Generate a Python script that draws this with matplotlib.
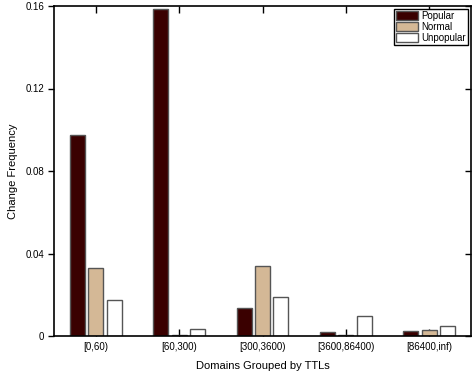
import numpy as np
import matplotlib
matplotlib.use('Agg')
import matplotlib.pyplot as plt
from matplotlib.lines import TICKLEFT

# data
groups = ['[0,60)', '[60,300)', '[300,3600)', '[3600,86400)', '[86400,inf)']
popular = [0.0976, 0.1585, 0.0136, 0.0018, 0.0023]
normal = [0.0328, 0.0005, 0.0338, 0.0005, 0.0028]
unpopular = [0.0175, 0.0032, 0.0190, 0.0098, 0.0047]
series_names = ['Popular', 'Normal', 'Unpopular']
colors = ['#3a0000', '#d4b896', '#ffffff']

plt.rcParams['font.family'] = ['Liberation Sans', 'DejaVu Sans']

fig = plt.figure(figsize=(4.72, 3.79), dpi=100)
ax = fig.add_axes([54 / 472, 1 - 336 / 379, 417 / 472, 330 / 379])

x = np.arange(1, len(groups) + 1)
offset = 0.22
width = 0.18
for i, (vals, name, c) in enumerate(zip([popular, normal, unpopular], series_names, colors)):
    ax.bar(x + (i - 1) * offset, vals, width, color=c, edgecolor='#555555',
           linewidth=1.0, label=name)

ax.set_xlim(0.5, 5.5)
ax.set_ylim(0, 0.16)
ax.set_xticks(x)
ax.set_xticklabels(groups, fontsize=7)
ax.set_yticks([0, 0.04, 0.08, 0.12, 0.16])
ax.set_yticklabels(['0', '0.04', '0.08', '0.12', '0.16'], fontsize=7)
ax.set_axisbelow(True)
ax.tick_params(axis='x', direction='in', top=True, length=5, width=1, pad=4)
ax.tick_params(axis='y', direction='out', right=True, length=4, width=1, pad=3)
# left ticks point out, right ticks point in (like the original)
for t in ax.yaxis.get_major_ticks():
    t.tick2line.set_marker(TICKLEFT)
for s in ax.spines.values():
    s.set_linewidth(1.2)

ax.set_xlabel('Domains Grouped by TTLs', fontsize=8, labelpad=7)
ax.set_ylabel('Change Frequency', fontsize=8, labelpad=5)

leg = ax.legend(loc='upper right', fontsize=7, fancybox=False, framealpha=1,
                edgecolor='black', borderpad=0.2, labelspacing=0.1,
                handlelength=2.2, handleheight=1.0, handletextpad=0.4,
                borderaxespad=0.3)
leg.get_frame().set_linewidth(1.0)

fig.savefig('out.png', dpi=100)
